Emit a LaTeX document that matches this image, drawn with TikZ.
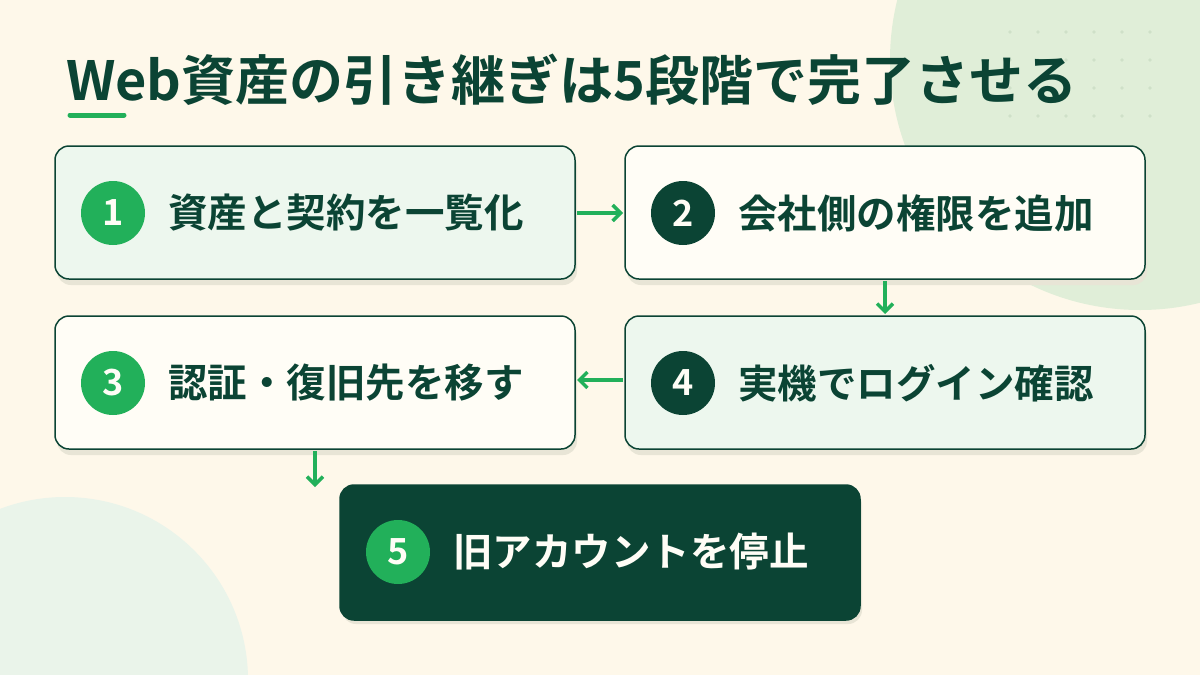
\documentclass[tikz,border=0pt]{standalone}
\usepackage{fontspec}
\setmainfont{Noto Sans CJK JP Bold}
\usetikzlibrary{arrows.meta}
\definecolor{dk}{HTML}{0B4434}
\definecolor{gr}{HTML}{22B05A}
\definecolor{bg}{HTML}{FEF8EA}
\definecolor{lt}{HTML}{EDF7EE}
\definecolor{wh}{HTML}{FFFDF6}
\definecolor{c1}{HTML}{E0EED8}
\definecolor{c2}{HTML}{EAF4EA}
\definecolor{sh}{HTML}{E8E5D6}
\definecolor{dt}{HTML}{CFE0C8}
\begin{document}
\begin{tikzpicture}[x=1pt,y=-1pt,
 box/.style={draw=dk,line width=1.5pt,rounded corners=14pt},
 num/.style={circle,fill=gr,text=wh,minimum size=64pt,inner sep=0pt,font=\fontsize{36}{36}\selectfont},
 lab/.style={anchor=west,text=dk,font=\fontsize{39.5}{40}\selectfont,inner sep=0pt},
 arr/.style={draw=gr,line width=3.5pt,-{Straight Barb[length=8pt,width=16pt,line width=3.5pt]}}]
\fill[bg] (0,0) rectangle (1200,675);
\useasboundingbox (0,0) rectangle (1200,675);
\fill[c1] (1140,60) circle (250);
\fill[c2] (65,680) circle (183);
\foreach \i in {0,...,5}{\foreach \j in {0,...,3}{\fill[dt] (1010+28*\i,32+28*\j) circle (1.8);}}
\node[anchor=base west,text=dk,inner sep=0pt,font=\fontsize{54}{54}\selectfont] (title) at (66,100) {Web資産の引き継ぎは5段階で完了させる};
\draw[gr,line width=5pt,line cap=round] (70,115) -- (124,115);
% boxes
\foreach \n/\x/\y/\f in {b1/55/146/lt,b2/625/146/wh,b3/55/316/wh,b4/625/316/lt}{
 \fill[sh,rounded corners=14pt] (\x+2,\y+6) rectangle (\x+522,\y+139);
 \filldraw[box,fill=\f] (\x,\y) rectangle (\x+520,\y+133);
 \coordinate (\n) at (\x,\y);}
\fill[sh,rounded corners=14pt] (342,491) rectangle (862,624);
\filldraw[box,fill=dk] (340,485) rectangle (860,620);
\node[num] (n1) at (113,213) {1};
\node[lab] (t1) at (168,213) {資産と契約を一覧化};
\node[num,fill=dk] (n2) at (683,213) {2};
\node[lab] (t2) at (738,213) {会社側の権限を追加};
\node[num] (n3) at (113,383) {3};
\node[lab] (t3) at (168,383) {認証・復旧先を移す};
\node[num,fill=dk] (n4) at (683,383) {4};
\node[lab] (t4) at (738,383) {実機でログイン確認};
\node[num] (n5) at (398,552) {5};
\node[lab,text=wh] (t5) at (453,552) {旧アカウントを停止};
\coordinate (a1) at (577,213); \coordinate (a2) at (623,213);
\coordinate (a3) at (885,281); \coordinate (a4) at (885,314);
\coordinate (a5) at (623,380); \coordinate (a6) at (577,380);
\coordinate (a7) at (315,451); \coordinate (a8) at (315,487);
\draw[arr] (a1) -- (a2);
\draw[arr] (a3) -- (a4);
\draw[arr] (a5) -- (a6);
\draw[arr] (a7) -- (a8);
\end{tikzpicture}
\end{document}
